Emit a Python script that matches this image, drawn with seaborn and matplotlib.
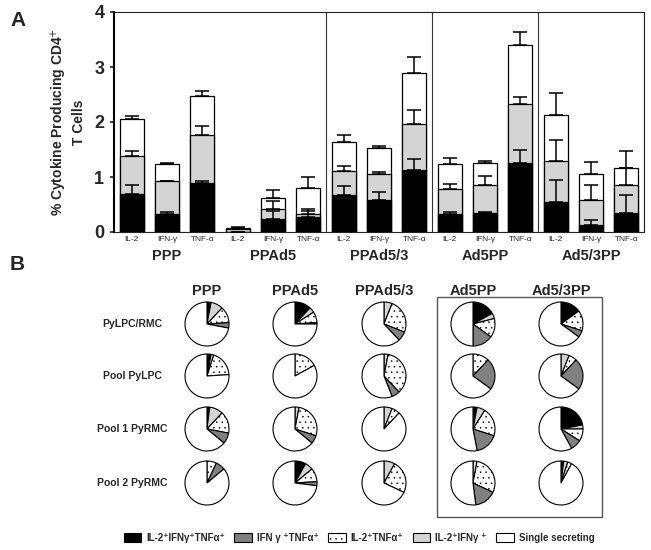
import numpy as np
import pandas as pd
import matplotlib
matplotlib.use('Agg')
import matplotlib.pyplot as plt
from matplotlib.patches import Patch, Rectangle
import seaborn as sns

# --- data: panel A (stacked bars, cumulative tops) ---
groups = ['PPP', 'PPAd5', 'PPAd5/3', 'Ad5PP', 'Ad5/3PP']
cytokines = ['IL-2', 'IFN-γ', 'TNF-α']

black_top = [0.70, 0.33, 0.89, 0.00, 0.23, 0.27, 0.67, 0.58, 1.12, 0.33, 0.35, 1.25, 0.55, 0.13, 0.35]
gray_top = [1.39, 0.92, 1.76, 0.05, 0.42, 0.33, 1.11, 1.06, 1.97, 0.79, 0.86, 2.33, 1.30, 0.59, 0.85]
white_top = [2.06, 1.23, 2.47, 0.07, 0.62, 0.80, 1.64, 1.53, 2.90, 1.24, 1.26, 3.40, 2.13, 1.05, 1.17]
black_err = [0.86, 0.36, 0.93, 0.00, 0.38, 0.38, 0.84, 0.72, 1.32, 0.37, 0.36, 1.50, 0.94, 0.21, 0.68]
gray_err = [1.47, 0.93, 1.93, 0.05, 0.56, 0.41, 1.20, 1.09, 2.21, 0.88, 1.02, 2.45, 1.68, 0.86, 1.17]
white_err = [2.11, 1.26, 2.57, 0.10, 0.77, 1.00, 1.77, 1.56, 3.18, 1.35, 1.30, 3.64, 2.53, 1.27, 1.47]

# --- data: panel B (pie slice percentages, rows x columns) ---
pie_rows = ['PyLPC/RMC', 'Pool PyLPC', 'Pool 1 PyRMC', 'Pool 2 PyRMC']
pie_cols = groups
pie_black = [[3, 12, 0, 17, 14],
             [3, 0, 0, 0, 0],
             [2, 0, 0, 3, 22],
             [0, 8, 0, 0, 2]]
pie_light = [[9, 4, 6, 4, 1],
             [2, 0, 3, 0, 6],
             [10, 3, 6, 6, 3],
             [0, 6, 8, 3, 3]]
pie_dotted = [[12, 8, 25, 14, 15],
              [19, 17, 35, 12, 6],
              [16, 27, 6, 21, 9],
              [7, 10, 24, 29, 3]]
pie_dark = [[4, 1, 7, 15, 5],
            [0, 0, 6, 23, 23],
            [8, 6, 0, 17, 8],
            [7, 3, 0, 16, 0]]

legend_labels = ['IL-2⁺IFNγ⁺TNFα⁺', 'IFN γ ⁺TNFα⁺',
                 'IL-2⁺TNFα⁺', 'IL-2⁺IFNγ ⁺', 'Single secreting']

C_BLACK = '#000000'
C_DARK = '#808080'
C_LIGHT = '#d4d4d4'

sns.set_style('white')
plt.rcParams['font.family'] = ['Liberation Sans', 'DejaVu Sans']
plt.rcParams['hatch.linewidth'] = 0.35
plt.rcParams['hatch.color'] = '#777777'

W, H = 651, 550
fig = plt.figure(figsize=(W / 100, H / 100), dpi=100)


def fx(px):
    return px / W


def fy(py):
    return 1 - py / H


# ---------------- Panel A ----------------
bar_ids = [f'{g}|{c}' for g in groups for c in cytokines]
df = pd.DataFrame({'bar': bar_ids, 'black': black_top, 'gray': gray_top, 'white': white_top})

ax = fig.add_axes([fx(114), fy(232), fx(644) - fx(114), fy(12) - fy(232)])
sns.barplot(data=df, x='bar', y='white', color='white', saturation=1, width=0.68,
            edgecolor='black', linewidth=0.9, ax=ax)
sns.barplot(data=df, x='bar', y='gray', color=C_LIGHT, saturation=1, width=0.68,
            edgecolor='black', linewidth=0.9, ax=ax)
sns.barplot(data=df, x='bar', y='black', color=C_BLACK, saturation=1, width=0.68,
            edgecolor='black', linewidth=0.9, ax=ax)

xpos = np.arange(len(bar_ids))
for top, err in [(black_top, black_err), (gray_top, gray_err), (white_top, white_err)]:
    top = np.array(top)
    up = np.clip(np.array(err) - top, 0, None)
    ax.errorbar(xpos, top, yerr=[np.zeros_like(up), up], fmt='none', ecolor='black',
                elinewidth=1.1, capsize=5, capthick=1.1, zorder=5)

# separators between the groups
for b in [2.5 + 3 * i for i in range(1, 5)]:
    ax.axvline(b, color='#333333', lw=0.8)

ax.set_xlim(-0.5, 14.5)
ax.set_ylim(0, 4)
ax.set_yticks([0, 1, 2, 3, 4])
ax.set_yticklabels(['0', '1', '2', '3', '4'], fontsize=13, fontweight='bold')
ax.set_xticks(xpos)
ax.set_xticklabels(cytokines * len(groups), fontsize=6)
ax.tick_params(axis='x', length=0, pad=3)
ax.tick_params(axis='y', length=3, width=1.2, left=True, pad=4)
ax.set_xlabel('')
ax.set_ylabel('% Cytokine Producing CD4$^{+}$\nT Cells', fontsize=10, fontweight='bold',
              labelpad=6, linespacing=1.3)
for s in ['top', 'right', 'bottom']:
    ax.spines[s].set_linewidth(0.8)
    ax.spines[s].set_color('#222222')
ax.spines['left'].set_linewidth(1.5)
ax.spines['left'].set_color('black')

for i, g in enumerate(groups):
    ax.text(3 * i + 1, -0.075, g, transform=ax.get_xaxis_transform(), ha='center',
            va='top', fontsize=10.5, fontweight='bold')

fig.text(fx(10), fy(20), 'A', fontsize=15, fontweight='bold', va='center')
fig.text(fx(10), fy(265), 'B', fontsize=15, fontweight='bold', va='center')

# ---------------- Panel B ----------------
col_x = [207, 295, 384, 473, 561]
row_y = [324, 376, 429, 483]
r = 22

for i, rname in enumerate(pie_rows):
    fig.text(fx(132), fy(row_y[i]), rname, fontsize=7.5, fontweight='bold',
             ha='center', va='center')
    for j in range(len(pie_cols)):
        vals = [pie_black[i][j], pie_light[i][j], pie_dotted[i][j], pie_dark[i][j]]
        vals.append(100 - sum(vals))
        colors = [C_BLACK, C_LIGHT, 'white', C_DARK, 'white']
        hatches = [None, None, '...', None, None]
        keep = [k for k, v in enumerate(vals) if v > 0]
        pax = fig.add_axes([fx(col_x[j] - r * 1.08), fy(row_y[i] + r * 1.08),
                            2.16 * r / W, 2.16 * r / H])
        wedges, _ = pax.pie([vals[k] for k in keep], colors=[colors[k] for k in keep],
                            startangle=90, counterclock=False, radius=1,
                            wedgeprops=dict(edgecolor='black', linewidth=0.8))
        for w, k in zip(wedges, keep):
            if hatches[k]:
                w.set_hatch(hatches[k])
        pax.set_xlim(-1.08, 1.08)
        pax.set_ylim(-1.08, 1.08)
        pax.axis('off')

for j, c in enumerate(pie_cols):
    fig.text(fx(col_x[j]), fy(291), c, fontsize=10.5, fontweight='bold',
             ha='center', va='center')

fig.add_artist(Rectangle((fx(437), fy(517)), fx(602) - fx(437), fy(297) - fy(517),
                         transform=fig.transFigure, fill=False, edgecolor='#555555', lw=1))

handles = [Patch(facecolor=C_BLACK, edgecolor='black', lw=0.8),
           Patch(facecolor=C_DARK, edgecolor='black', lw=0.8),
           Patch(facecolor='white', edgecolor='black', lw=0.8, hatch='...'),
           Patch(facecolor=C_LIGHT, edgecolor='black', lw=0.8),
           Patch(facecolor='white', edgecolor='black', lw=0.8)]
fig.legend(handles, legend_labels, loc='center', bbox_to_anchor=(fx(359), fy(538)),
           ncol=5, frameon=False, prop={'size': 7, 'weight': 'bold'},
           handlelength=1.8, handleheight=1.0, columnspacing=1.0, handletextpad=0.5)

fig.savefig('out.png', dpi=100)
